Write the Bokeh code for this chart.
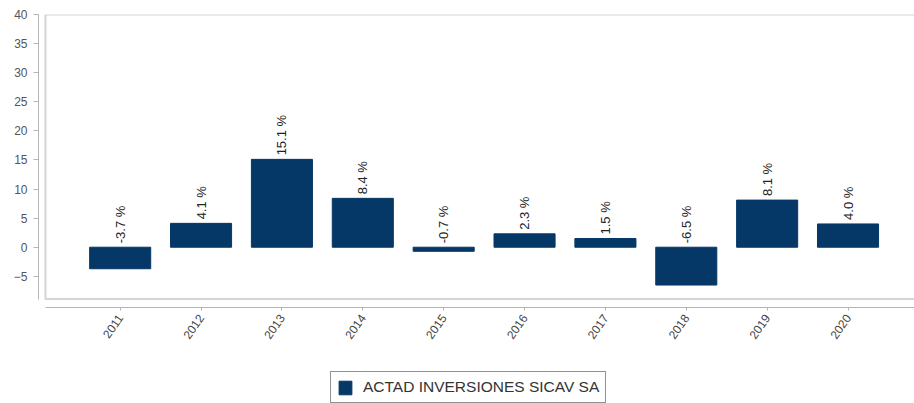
import math
from bokeh.plotting import figure
from bokeh.layouts import column
from bokeh.models import (ColumnDataSource, FixedTicker, BoxAnnotation, Legend,
                          LegendItem)
from bokeh.core.properties import value
from bokeh.embed import file_html
from bokeh.resources import INLINE

# ---- data -------------------------------------------------------------
years = ["2011", "2012", "2013", "2014", "2015", "2016", "2017", "2018", "2019", "2020"]
returns = [-3.7, 4.1, 15.1, 8.4, -0.7, 2.3, 1.5, -6.5, 8.1, 4.0]
y_ticks = [-5, 0, 5, 10, 15, 20, 25, 30, 35, 40]
series_name = "ACTAD INVERSIONES SICAV SA"

xs = list(range(len(years)))
labels = [f"{v:.1f} %" for v in returns]
label_y = [max(v, 0) for v in returns]

src = ColumnDataSource(dict(x=xs, v=returns, lab=labels, ly=label_y))

FONT = "Liberation Sans"
BAR = "#053866"

p = figure(width=914, height=365,
           x_range=(-1.010, 9.822), y_range=(-10.36, 40),
           output_backend="svg", toolbar_location=None,
           min_border_left=38, min_border_right=0,
           min_border_top=14, min_border_bottom=58)
p.outline_line_color = None
p.xgrid.visible = False
p.ygrid.visible = False
p.background_fill_color = "white"
p.border_fill_color = "white"

# plot box
box = BoxAnnotation(left=-0.924, right=11, bottom=-8.9, top=40,
                    fill_alpha=0, line_color="#707070", line_width=2)
p.add_layout(box)

bars = p.vbar(x="x", top="v", bottom=0, width=0.755, source=src,
              fill_color=BAR, line_color=BAR, line_width=1)

p.text(x="x", y="ly", text="lab", source=src, angle=math.pi / 2,
       text_align="left", text_baseline="middle", y_offset=-4,
       text_font=value(FONT), text_font_size="13px", text_color="#222222")

# y axis
ya = p.yaxis[0]
ya.ticker = FixedTicker(ticks=y_ticks)
ya.bounds = (-8.9, 40)
ya.axis_line_color = "#b5b5b5"
ya.major_tick_line_color = "#b5b5b5"
ya.major_tick_out = 5
ya.major_tick_in = 0
ya.minor_tick_line_color = None
ya.major_label_standoff = 6
ya.major_label_text_font = FONT
ya.major_label_text_font_size = "12px"
ya.major_label_text_color = "#555555"

# x axis
xa = p.xaxis[0]
xa.ticker = FixedTicker(ticks=xs)
xa.major_label_overrides = {i: y for i, y in zip(xs, years)}
xa.bounds = (-0.924, 9.822)
xa.axis_line_color = "#b5b5b5"
xa.major_tick_line_color = "#b5b5b5"
xa.major_tick_out = 3
xa.major_tick_in = 0
xa.minor_tick_line_color = None
xa.major_label_standoff = 5
xa.major_label_orientation = 0.96
xa.major_label_text_font = FONT
xa.major_label_text_font_size = "12px"
xa.major_label_text_color = "#444444"

# ---- legend strip (separate small figure below the chart) --------------
leg = figure(width=914, height=38, x_range=(100, 101), y_range=(100, 101),
             output_backend="svg", toolbar_location=None,
             x_axis_location=None, y_axis_location=None,
             min_border_left=0, min_border_right=0,
             min_border_top=0, min_border_bottom=0)
leg.outline_line_color = None
leg.xgrid.visible = False
leg.ygrid.visible = False
leg_bars = leg.vbar(x="x", top="v", bottom=0, width=0.755, source=src,
                    fill_color=BAR, line_color=BAR, line_width=1)

legend = Legend(items=[LegendItem(label=series_name, renderers=[leg_bars])],
                location=(292, 0), orientation="horizontal",
                glyph_width=16, glyph_height=17, padding=6, margin=0,
                spacing=0, label_standoff=10,
                border_line_color="#222222", border_line_width=1.5,
                background_fill_color="white", background_fill_alpha=1,
                label_text_font=FONT, label_text_font_size="15.5px",
                label_text_color="#333333")
leg.add_layout(legend, "center")

layout = column(p, leg, spacing=0)
open("out.html", "w").write(file_html(layout, INLINE))
